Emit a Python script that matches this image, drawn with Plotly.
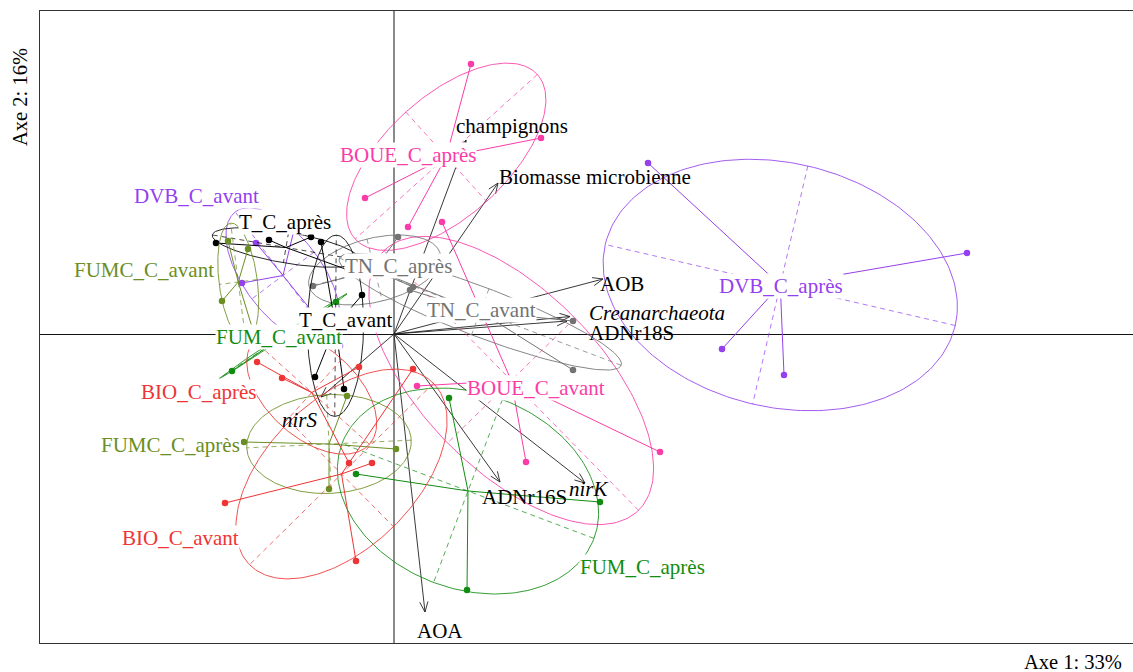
import numpy as np
import plotly.graph_objects as go

# ---------------- data: factor scores on axes 1 and 2 ----------------
boue_apres_x = [0.77, 1.47, -0.29, 0.14]
boue_apres_y = [2.70, 1.96, 1.36, 1.07]
boue_avant_x = [0.48, 0.23, 1.32, 2.66]
boue_avant_y = [1.12, -0.52, -1.28, -1.18]
dvb_apres_x = [2.54, 5.73, 3.28, 3.90]
dvb_apres_y = [1.71, 0.81, -0.15, -0.41]
dvb_avant_x = [-1.00, -1.38, -1.52, -0.54]
dvb_avant_y = [1.04, 0.91, 0.51, -0.12]
t_apres_x = [-1.78, -1.25, -0.83, -0.46]
t_apres_y = [0.91, 0.94, 0.97, 0.64]
t_avant_x = [-0.73, -0.32, -0.79, -0.50]
t_avant_y = [0.92, 0.39, -0.43, -0.55]
tn_apres_x = [-0.81, 0.04, 0.19]
tn_apres_y = [0.48, 0.97, 0.47]
tn_avant_x = [1.79, 1.79, -0.29, 0.16]
tn_avant_y = [0.13, -0.36, 0.68, 0.44]
fumc_apres_x = [-1.50, 0.02, -0.47, -0.65]
fumc_apres_y = [-1.08, -1.15, -0.62, -1.55]
fumc_avant_x = [-1.66, -1.46, -1.72, -1.39]
fumc_avant_y = [0.93, 0.85, 0.33, -0.03]
fum_apres_x = [0.55, -0.38, 2.06, 0.73]
fum_apres_y = [-0.64, -1.40, -1.68, -2.56]
fum_avant_x = [-0.58, -1.62, -1.12]
fum_avant_y = [0.32, -0.37, -0.01]
bio_apres_x = [-1.37, -1.12, -0.35, -0.45]
bio_apres_y = [-0.28, -0.44, -0.33, -1.29]
bio_avant_x = [0.19, -0.22, -1.69, -0.38]
bio_avant_y = [-0.35, -1.29, -1.69, -2.27]

group_names = ["BOUE_C_après", "BOUE_C_avant", "DVB_C_après", "DVB_C_avant",
               "T_C_après", "TN_C_après", "TN_C_avant",
               "FUMC_C_après", "FUMC_C_avant", "FUM_C_après", "FUM_C_avant", "T_C_avant",
               "BIO_C_après", "BIO_C_avant"]
group_x = [boue_apres_x, boue_avant_x, dvb_apres_x, dvb_avant_x, t_apres_x,
           tn_apres_x, tn_avant_x, fumc_apres_x, fumc_avant_x, fum_apres_x, fum_avant_x,
           t_avant_x, bio_apres_x, bio_avant_x]
group_y = [boue_apres_y, boue_avant_y, dvb_apres_y, dvb_avant_y, t_apres_y,
           tn_apres_y, tn_avant_y, fumc_apres_y, fumc_avant_y, fum_apres_y, fum_avant_y,
           t_avant_y, bio_apres_y, bio_avant_y]
class_label_x = [0.135, 1.42, 3.865, -1.975, -1.09, 0.04, 0.87,
                 -2.24, -2.505, 2.48, -1.15, -0.49, -1.955, -2.135]
class_label_y = [1.79, -0.54, 0.48, 1.38, 1.12, 0.68, 0.24,
                 -1.11, 0.64, -2.33, -0.03, 0.14, -0.58, -2.04]

# variables (correlation circle arrows)
var_names = ["champignons", "Biomasse microbienne", "AOB", "<i>Creanarchaeota</i>",
             "ADNr18S", "ADNr16S", "<i>nirK</i>", "AOA", "<i>nirS</i>"]
var_x = [0.72, 1.04, 2.09, 1.76, 1.73, 1.06, 1.91, 0.31, -0.73]
var_y = [1.94, 1.51, 0.55, 0.175, 0.13, -1.48, -1.49, -2.78, -0.63]
var_label_x = [1.18, 2.01, 2.28, 2.63, 2.37, 1.30, 1.95, 0.46, -0.94]
var_label_y = [2.08, 1.57, 0.50, 0.21, 0.01, -1.63, -1.55, -2.97, -0.86]

# ---------------- style ----------------
col_boue = "#FA3CA8"
col_dvb = "#9440EE"
col_t = "#000000"
col_tn = "#737373"
col_fumc = "#6B8E23"
col_fum = "#118C11"
col_bio = "#EE3434"
group_colors = [col_boue, col_boue, col_dvb, col_dvb, col_t, col_tn, col_tn,
                col_fumc, col_fumc, col_fum, col_fum, col_t, col_bio, col_bio]
FONT = "Liberation Serif, Times New Roman, Times, serif"
CELLIPSE = 1.5

fig = go.Figure()


def ellipse_geometry(x, y, c=CELLIPSE):
    x = np.asarray(x, float)
    y = np.asarray(y, float)
    mx, my = x.mean(), y.mean()
    dx, dy = x - mx, y - my
    cov = np.array([[np.mean(dx * dx), np.mean(dx * dy)],
                    [np.mean(dx * dy), np.mean(dy * dy)]])
    vals, vecs = np.linalg.eigh(cov)
    vals = np.clip(vals, 0, None)
    a = c * np.sqrt(vals[1])
    b = c * np.sqrt(vals[0])
    v1 = vecs[:, 1]
    v0 = vecs[:, 0]
    t = np.linspace(0, 2 * np.pi, 240)
    ex = mx + a * np.cos(t) * v1[0] + b * np.sin(t) * v0[0]
    ey = my + a * np.cos(t) * v1[1] + b * np.sin(t) * v0[1]
    ax_x = [mx - a * v1[0], mx + a * v1[0], None, mx - b * v0[0], mx + b * v0[0]]
    ax_y = [my - a * v1[1], my + a * v1[1], None, my - b * v0[1], my + b * v0[1]]
    return mx, my, ex, ey, ax_x, ax_y


# arrows first (they lie under the class display)
axs, ays = [], []
head_len = 0.11
head_ang = np.deg2rad(22)
for vx, vy in zip(var_x, var_y):
    axs += [0, vx, None]
    ays += [0, vy, None]
    ang = np.arctan2(vy, vx)
    for s in (1, -1):
        axs += [vx, vx - head_len * np.cos(ang + s * head_ang), None]
        ays += [vy, vy - head_len * np.sin(ang + s * head_ang), None]
fig.add_trace(go.Scatter(x=axs, y=ays, mode="lines", line=dict(color="#222222", width=0.9),
                         hoverinfo="skip"))

for name, gx, gy, col in zip(group_names, group_x, group_y, group_colors):
    mx, my, ex, ey, ax_x, ax_y = ellipse_geometry(gx, gy)
    fig.add_trace(go.Scatter(x=ex, y=ey, mode="lines", line=dict(color=col, width=1),
                             opacity=0.85, hoverinfo="skip"))
    fig.add_trace(go.Scatter(x=ax_x, y=ax_y, mode="lines",
                             line=dict(color=col, width=1, dash="5px,4px"),
                             opacity=0.7, hoverinfo="skip"))
    sx, sy = [], []
    for px, py in zip(gx, gy):
        sx += [mx, px, None]
        sy += [my, py, None]
    fig.add_trace(go.Scatter(x=sx, y=sy, mode="lines", line=dict(color=col, width=1),
                             hoverinfo="skip"))
    fig.add_trace(go.Scatter(x=gx, y=gy, mode="markers", name=name,
                             marker=dict(color=col, size=6.5, line=dict(width=0))))

annotations = []
for txt, lx, ly in zip(var_names, var_label_x, var_label_y):
    annotations.append(dict(x=lx, y=ly, xref="x", yref="y", text=txt, showarrow=False,
                            font=dict(family=FONT, size=21, color="black"),
                            xanchor="center", yanchor="middle"))
for txt, lx, ly, col in zip(group_names, class_label_x, class_label_y, group_colors):
    annotations.append(dict(x=lx, y=ly, xref="x", yref="y", text=txt, showarrow=False,
                            font=dict(family=FONT, size=21, color=col),
                            bgcolor="white", borderpad=0, xanchor="center", yanchor="middle"))
annotations.append(dict(x=-0.0183, y=0.864, xref="paper", yref="paper", text="Axe 2: 16%",
                        showarrow=False, textangle=-90,
                        font=dict(family=FONT, size=20.5, color="black"),
                        xanchor="center", yanchor="middle"))
annotations.append(dict(x=0.945, y=-0.030, xref="paper", yref="paper", text="Axe 1: 33%",
                        showarrow=False, font=dict(family=FONT, size=20.5, color="black"),
                        xanchor="center", yanchor="middle"))

fig.update_layout(
    width=1133, height=672,
    margin=dict(l=40, r=0, t=11, b=29, autoexpand=False),
    paper_bgcolor="white", plot_bgcolor="white",
    showlegend=False,
    annotations=annotations,
    xaxis=dict(range=[-3.54, 7.39], showgrid=False, showticklabels=False, ticks="",
               zeroline=True, zerolinecolor="#8a8a8a", zerolinewidth=1.6,
               showline=True, mirror=True, linecolor="#333333", linewidth=1),
    yaxis=dict(range=[-3.09, 3.23], showgrid=False, showticklabels=False, ticks="",
               zeroline=True, zerolinecolor="#111111", zerolinewidth=1,
               showline=True, mirror=False, linecolor="#333333", linewidth=1),
)

fig.write_html("out.html",
               config={"displayModeBar": False},
               post_script="document.body.style.margin='0px';"
                           "document.body.style.padding='0px';"
                           "document.body.style.overflow='hidden';")
